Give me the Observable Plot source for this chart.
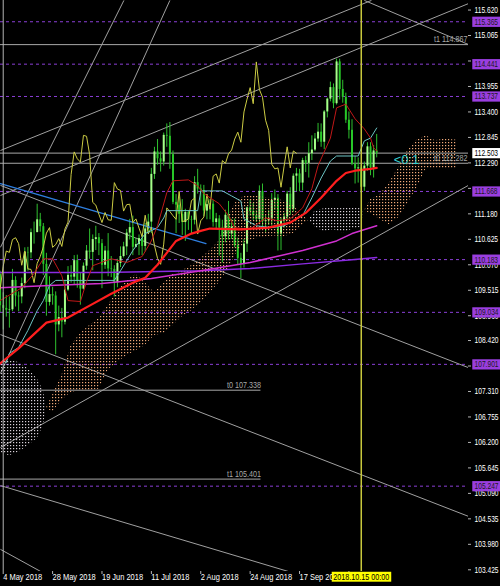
<!DOCTYPE html>
<html><head><meta charset="utf-8">
<script src="https://cdn.jsdelivr.net/npm/d3@7"></script>
<script src="https://cdn.jsdelivr.net/npm/@observablehq/plot@0.6"></script>
<style>
html,body{margin:0;padding:0;background:#000;}
#chart svg{display:block;}
</style></head>
<body><div id="chart"></div>
<script>
// ---- daily bars (USDJPY) ----
const barDates = ["2018.05.03","2018.05.04","2018.05.07","2018.05.08","2018.05.09","2018.05.10","2018.05.11","2018.05.14","2018.05.15","2018.05.16","2018.05.17","2018.05.18","2018.05.21","2018.05.22","2018.05.23","2018.05.24","2018.05.25","2018.05.28","2018.05.29","2018.05.30","2018.05.31",
"2018.06.01","2018.06.04","2018.06.05","2018.06.06","2018.06.07","2018.06.08","2018.06.11","2018.06.12","2018.06.13","2018.06.14","2018.06.15","2018.06.18","2018.06.19","2018.06.20","2018.06.21","2018.06.22","2018.06.25","2018.06.26","2018.06.27","2018.06.28","2018.06.29",
"2018.07.02","2018.07.03","2018.07.04","2018.07.05","2018.07.06","2018.07.09","2018.07.10","2018.07.11","2018.07.12","2018.07.13","2018.07.16","2018.07.17","2018.07.18","2018.07.19","2018.07.20","2018.07.23","2018.07.24","2018.07.25","2018.07.26","2018.07.27","2018.07.30","2018.07.31",
"2018.08.01","2018.08.02","2018.08.03","2018.08.06","2018.08.07","2018.08.08","2018.08.09","2018.08.10","2018.08.13","2018.08.14","2018.08.15","2018.08.16","2018.08.17","2018.08.20","2018.08.21","2018.08.22","2018.08.23","2018.08.24","2018.08.27","2018.08.28","2018.08.29","2018.08.30","2018.08.31",
"2018.09.03","2018.09.04","2018.09.05","2018.09.06","2018.09.07","2018.09.10","2018.09.11","2018.09.12","2018.09.13","2018.09.14","2018.09.17","2018.09.18","2018.09.19","2018.09.20","2018.09.21","2018.09.24","2018.09.25","2018.09.26","2018.09.27","2018.09.28",
"2018.10.01","2018.10.02","2018.10.03","2018.10.04","2018.10.05","2018.10.08","2018.10.09","2018.10.10","2018.10.11","2018.10.12","2018.10.15","2018.10.16","2018.10.17","2018.10.18","2018.10.19","2018.10.22"];
const opens = [109.86,109.18,109.12,109.08,109.09,109.73,109.39,109.37,109.66,110.34,110.33,110.77,110.77,111.05,110.90,110.08,109.25,109.42,109.39,108.76,108.92,
108.82,109.52,109.84,109.80,110.16,109.71,109.54,110.04,110.37,110.34,110.62,110.66,110.53,110.06,110.37,109.98,109.97,109.68,110.10,110.25,110.46,
110.76,110.88,110.45,110.51,110.64,110.47,110.85,111.00,112.04,112.53,112.38,112.31,112.89,112.87,112.47,111.43,111.37,111.17,110.99,111.21,111.05,111.04,
111.86,111.72,111.69,111.24,111.38,111.39,110.99,111.07,110.87,110.68,111.15,110.74,110.89,110.49,110.21,110.08,110.52,111.31,111.23,111.14,111.06,111.67,111.01,
111.03,111.07,111.47,111.52,110.74,111.03,111.11,111.61,111.28,112.00,112.05,111.85,112.34,112.28,112.49,112.57,112.81,112.96,112.74,113.40,
113.68,113.93,113.58,114.49,113.89,113.72,113.22,113.00,112.26,112.16,112.18,111.76,112.22,112.64,112.18,112.55];
const highs = [109.93,109.46,109.40,109.37,109.97,109.81,109.48,109.78,110.44,110.45,110.85,111.00,111.39,111.19,110.97,110.32,109.81,109.58,109.48,109.17,109.12,
109.73,110.03,110.05,110.27,110.28,109.88,110.11,110.49,110.85,110.72,110.91,110.75,110.62,110.47,110.75,110.25,110.05,110.19,110.46,110.56,110.84,
111.06,111.13,110.65,110.72,110.71,110.97,111.17,112.17,112.63,112.80,112.53,112.94,113.14,113.17,112.55,111.60,111.54,111.49,111.28,111.23,111.13,111.99,
112.15,111.81,111.80,111.48,111.49,111.47,111.19,111.14,111.04,111.26,111.45,111.06,111.07,110.65,110.32,110.62,111.33,111.48,111.41,111.25,111.79,111.83,111.14,
111.25,111.62,111.70,111.60,111.09,111.19,111.67,111.75,112.05,112.17,112.15,112.39,112.43,112.73,112.88,112.93,113.15,113.14,113.43,113.70,
114.05,114.01,114.55,114.55,114.09,113.81,113.40,113.23,112.43,112.40,112.24,112.31,112.73,112.73,112.67,112.91];
const lows = [109.03,108.65,108.93,108.69,109.05,109.15,109.05,109.22,109.55,109.93,110.20,110.52,110.80,110.78,109.84,108.95,109.17,109.19,108.11,108.61,108.48,
108.76,109.49,109.67,109.64,109.56,109.19,109.52,109.95,110.19,109.94,110.38,110.27,109.55,109.97,109.81,109.79,109.37,109.57,110.01,110.22,110.27,
110.61,110.27,110.44,110.27,110.27,110.35,110.77,110.75,111.93,112.24,112.09,112.22,112.63,112.15,111.38,110.75,110.97,110.71,110.58,110.82,110.74,110.94,
111.61,111.35,111.12,111.05,111.05,110.89,110.86,110.26,110.11,110.55,110.61,110.62,110.44,110.07,109.77,110.00,110.34,111.13,111.04,110.99,110.95,110.86,110.78,
110.93,110.91,111.25,110.37,110.38,110.87,111.02,111.15,111.22,111.66,111.66,111.68,112.08,111.96,112.34,112.54,112.74,112.63,112.58,113.27,
113.62,113.47,113.55,113.66,113.59,113.15,112.81,112.23,111.83,111.85,111.62,111.67,112.11,112.01,111.96,112.40];
const closes = [109.18,109.12,109.08,109.09,109.73,109.39,109.37,109.66,110.34,110.33,110.77,110.77,111.05,110.90,110.08,109.25,109.42,109.39,108.76,108.92,108.82,
109.52,109.84,109.80,110.16,109.71,109.54,110.04,110.37,110.34,110.62,110.66,110.53,110.06,110.37,109.98,109.97,109.68,110.10,110.25,110.46,110.76,
110.88,110.45,110.51,110.64,110.47,110.85,111.00,112.04,112.53,112.38,112.31,112.89,112.87,112.47,111.43,111.37,111.17,110.99,111.21,111.05,111.04,111.86,
111.72,111.69,111.24,111.38,111.39,110.99,111.07,110.87,110.68,111.15,110.74,110.89,110.49,110.21,110.08,110.52,111.31,111.23,111.14,111.06,111.67,111.01,111.03,
111.07,111.47,111.52,110.74,111.03,111.11,111.61,111.28,112.00,112.05,111.85,112.34,112.28,112.49,112.57,112.81,112.96,112.74,113.40,113.68,
113.93,113.58,114.49,113.89,113.72,113.22,113.00,112.26,112.16,112.18,111.76,112.22,112.64,112.18,112.55,112.50];
const chikouShift = 26;

// ---- indicator lines: [bar, price] ----
const maLine = [[-1,107.92],[5,108.25],[14,108.81],[21,108.92],[28,109.18],[35,109.44],[42,109.68],[46,109.79],[50,110.07],[53,110.33],[56,110.59],[61,110.75],[64,110.81],[67,110.86],[77,110.84],[86,110.88],[93,110.99],[98,111.20],[103,111.53],[108,111.90],[111,112.07],[114,112.12],[119,112.16],[121,112.18]];
const tenkan = [[-1,109.29],[6,109.57],[10,109.88],[13,110.20],[16,110.20],[19,109.83],[21,109.29],[25,109.27],[27,109.70],[29,110.05],[35,110.20],[40,110.12],[45,110.25],[48,110.59],[50,110.92],[53,111.64],[55,111.90],[60,111.92],[63,111.79],[65,111.62],[70,111.40],[73,111.14],[75,110.88],[80,110.84],[85,111.09],[89,111.03],[93,111.07],[97,111.31],[100,111.73],[102,112.23],[106,112.83],[108,113.49],[111,113.57],[114,113.25],[117,113.03],[119,112.83],[120,112.62],[121,112.55]];
const kijun = [[1,107.94],[2,108.14],[5,108.27],[8,108.64],[11,109.07],[13,109.29],[15,109.62],[17,109.73],[36,109.73],[38,109.94],[42,110.38],[46,110.75],[50,110.88],[52,111.09],[53,111.25],[63,111.25],[64,111.68],[71,111.68],[74,111.57],[77,111.46],[78,111.07],[82,110.92],[87,110.88],[91,110.92],[97,111.14],[100,111.53],[103,111.96],[106,112.33],[108,112.44],[115,112.44],[117,112.77],[119,112.83],[121,113.05]];
const cloudBars = [-1,2,5,8,11,13,14,16,19,22,25,28,31,34,37,40,43,46,49,52,55,58,61,64,67,70,73,76,79,82,85,88,91,94,97,99,101,104,107,110,113,116,117,119,122,125,128,131,134,137,140,143,146,147];
const spanA = [105.98,105.91,105.98,106.13,106.28,106.56,106.95,107.23,107.66,108.31,108.57,108.75,108.90,109.18,109.51,109.73,109.86,109.68,109.46,109.68,109.86,109.94,110.05,110.20,110.38,110.59,111.14,111.51,111.57,111.57,111.53,111.51,111.46,111.36,111.14,111.04,110.89,110.79,110.84,110.76,110.84,110.89,111.24,111.49,111.59,111.84,112.18,112.55,112.79,112.88,112.77,112.81,112.79,112.79];
const spanB = [107.94,107.99,107.94,107.81,107.59,107.33,106.95,106.86,107.12,107.29,107.33,107.33,107.36,107.77,107.94,108.09,108.20,108.31,108.53,108.57,108.75,108.94,109.07,109.25,109.46,109.68,109.99,110.38,110.59,110.64,110.68,110.70,110.68,110.75,110.94,111.04,111.24,111.29,111.31,111.29,111.31,111.29,111.24,111.19,111.06,110.94,111.09,111.40,111.74,112.16,112.16,112.16,112.16,112.16];
const sma100 = [[-1,109.57],[15,109.62],[32,109.66],[48,109.77],[64,109.94],[80,110.12],[97,110.38],[108,110.59],[113,110.75],[121,110.92]];
const sma200 = [[-1,109.90],[32,109.90],[64,109.94],[80,109.99],[97,110.09],[113,110.18],[121,110.23]];
const blueLine = [[-0.9,111.84],[65.7,110.53]];
// gray trend lines [bar1, price1, bar2, price2]
const trendLines = [
  [-0.9,112.56,119.3,115.83],[-0.9,111.58,150.7,115.76],[-0.9,106.09,150.7,111.80],
  [-0.9,110.45,39.1,115.83],[-0.9,107.70,54.0,115.83],[117,115.83,150.7,114.87],
  [-0.9,111.80,150.7,107.83],[-0.9,108.55,150.7,104.59],[-0.9,105.26,93.3,103.37],
  [-0.9,103.87,12.1,103.39]
];
// horizontal levels
const purpleLevels = [115.365,114.441,113.737,111.668,110.183,109.034,107.901,105.247];
const bidPrice = 112.503;
const grayLevels = [114.867,112.503,112.282];
const tLabelsRight = [{text:"t1 114.867",price:114.867},{text:"t0 112.282",price:112.282}];
const tLines = [{text:"t0 107.338",price:107.338,from:-0.9,to:83.5},{text:"t1 105.401",price:105.401,from:-0.9,to:83.5}];
const ratioText = {text:"<0:1", bar:126.5, price:112.36};
// axes (labels fully hidden behind the level boxes in the picture are left blank)
const yTicks = [115.620,115.065,114.510,113.955,113.400,112.845,112.290,111.735,111.180,110.625,110.070,109.515,108.960,108.420,107.865,107.310,106.755,106.200,105.645,105.090,104.535,103.980,103.425];
const yTickLabels = ["115.620","115.065","","113.955","113.400","112.845","112.290","","111.180","110.625","110.070","109.515","108.960","108.420","","107.310","106.755","106.200","105.645","105.090","104.535","103.980","103.425"];
const xTickDates = ["2018.05.04","2018.05.28","2018.06.19","2018.07.11","2018.08.02","2018.08.24","2018.09.17","2018.10.09"];
const xTickLabels = ["4 May 2018","28 May 2018","19 Jun 2018","11 Jul 2018","2 Aug 2018","24 Aug 2018","17 Sep 2018","9 Oct 2018"];
const cursorDate = "2018.10.15";
const cursorLabel = "2018.10.15 00:00";

// ---- build tables ----
const barOf = d => barDates.indexOf(d) - 1;
const bars = barDates.map((d,k)=>({i:k-1, o:opens[k], h:highs[k], l:lows[k], c:closes[k]}));
const chikou = bars.map(b=>({i:b.i-chikouShift, c:b.c})).filter(d=>d.i>=-1);
const cloud = cloudBars.map((i,k)=>({i, a:spanA[k], b:spanB[k]}));
const xTicks = xTickDates.map(barOf);
const cursorBar = barOf(cursorDate);
const yLabelRows = yTicks.map((v,k)=>({v, t:yTickLabels[k]})).filter(d=>d.t);

const F = "Liberation Sans, Arial, sans-serif";
const FS = 9;
const chart = Plot.plot({
  width: 500, height: 586,
  marginLeft: 0, marginRight: 32, marginTop: 0, marginBottom: 15,
  x: {domain: [-0.877, 150.74], axis: null},
  y: {domain: [103.388, 115.828], axis: null},
  style: {background: "#000", fontFamily: F},
  marks: [
    Plot.ruleY(purpleLevels, {y: d=>d, stroke: "#8a3fd6", strokeDasharray: "3,3", strokeWidth: 1}),
    Plot.ruleY(grayLevels, {y: d=>d, stroke: "#a8a8a8", strokeWidth: 1}),
    Plot.ruleY(tLines, {y: "price", x1: "from", x2: "to", stroke: "#a8a8a8", strokeWidth: 1}),
    Plot.link(trendLines, {x1: d=>d[0], y1: d=>d[1], x2: d=>d[2], y2: d=>d[3], stroke: "#a0a0a0", strokeWidth: 1, clip: true}),
    // candles
    Plot.ruleX(bars, {x: "i", y1: "l", y2: "h", stroke: "#2fc02f", strokeWidth: 1}),
    Plot.ruleX(bars, {x: "i", y1: "o", y2: "c", stroke: d => d.c >= d.o ? "#a6ff8a" : "#28c828", strokeWidth: 2}),
    // ichimoku cloud
    Plot.areaY(cloud, {x: "i", y1: "b", y2: d => Math.max(d.a, d.b), fill: "url(#dotsPeach)"}),
    Plot.areaY(cloud, {x: "i", y1: "a", y2: d => Math.max(d.a, d.b), fill: "url(#dotsWhite)"}),
    // long averages and blue line
    Plot.line(sma200, {x: d=>d[0], y: d=>d[1], stroke: "#8b2be2", strokeWidth: 1.5}),
    Plot.line(sma100, {x: d=>d[0], y: d=>d[1], stroke: "#d030d0", strokeWidth: 1.5}),
    Plot.line(blueLine, {x: d=>d[0], y: d=>d[1], stroke: "#2f7fe0", strokeWidth: 1.2}),
    // chikou, kijun, tenkan, MA
    Plot.line(chikou, {x: "i", y: "c", stroke: "#cccc44", strokeWidth: 1}),
    Plot.line(kijun, {x: d=>d[0], y: d=>d[1], stroke: "#6cc4c4", strokeWidth: 1}),
    Plot.line(tenkan, {x: d=>d[0], y: d=>d[1], stroke: "#c01818", strokeWidth: 1}),
    Plot.line(maLine, {x: d=>d[0], y: d=>d[1], stroke: "#ff1e1e", strokeWidth: 2.2}),
    // cursor
    Plot.ruleX([cursorBar], {x: d=>d, stroke: "#c8c83c", strokeWidth: 1.5}),
    // frame lines
    Plot.ruleX([0], {frameAnchor: "right", stroke: "#b4b4b4"}),
    Plot.ruleY([0], {frameAnchor: "bottom", stroke: "#b4b4b4"}),
    // y ticks & labels
    Plot.tickY(yTicks, {y: d=>d, stroke: "#b4b4b4", insetLeft: 465, dx: 3}),
    Plot.text(yLabelRows, {y: "v", text: "t", frameAnchor: "right", dx: 6, textAnchor: "start", fill: "#ffffff", fontSize: FS, ariaDescription: "ylabels"}),
    // x ticks & labels
    Plot.tickX(xTicks, {x: d=>d, stroke: "#b4b4b4", insetTop: 568, dy: 3}),
    Plot.text(xTicks, {x: d=>d, text: (d,k)=>xTickLabels[k], frameAnchor: "bottom", dy: 8, textAnchor: "start", fill: "#ffffff", fontSize: FS, ariaDescription: "xlabels"}),
    // level labels
    Plot.text(purpleLevels, {y: d=>d, text: d=>d.toFixed(3), frameAnchor: "right", dx: 6, textAnchor: "start", fill: "#1a1a1a", fontSize: FS, ariaDescription: "purple-label"}),
    Plot.text([bidPrice], {y: d=>d, text: d=>d.toFixed(3), frameAnchor: "right", dx: 6, textAnchor: "start", fill: "#000", fontSize: FS, ariaDescription: "bid-label"}),
    Plot.text(tLabelsRight, {y: "price", text: "text", frameAnchor: "right", dx: -1, dy: -5, textAnchor: "end", fill: "#a8a8a8", fontSize: FS, ariaDescription: "tlabels"}),
    Plot.text(tLines, {x: "to", y: "price", text: "text", dy: -5, textAnchor: "end", fill: "#a8a8a8", fontSize: FS, ariaDescription: "tlabels2"}),
    Plot.text([ratioText], {x: "bar", y: "price", text: "text", textAnchor: "start", fill: "#36d0d0", fontSize: 13, ariaDescription: "ratio"}),
    Plot.text([cursorBar], {x: d=>d, text: () => cursorLabel, frameAnchor: "bottom", dy: 8, textAnchor: "middle", fill: "#000", fontSize: FS, ariaDescription: "cursor-date"})
  ]
});
document.getElementById("chart").append(chart);

// ---- styling post-process: dot patterns, narrow MT4-like text, label boxes ----
const NS = "http://www.w3.org/2000/svg";
const defs = document.createElementNS(NS, "defs");
defs.innerHTML = `<pattern id="dotsPeach" width="3" height="3" patternUnits="userSpaceOnUse"><rect x="1" y="1" width="1.2" height="1.2" fill="#f0a878"/></pattern>
<pattern id="dotsWhite" width="3" height="3" patternUnits="userSpaceOnUse"><rect x="1" y="1" width="1.2" height="1.2" fill="#d8d0d8"/></pattern>`;
chart.insertBefore(defs, chart.firstChild);
const sel = lab => chart.querySelectorAll(`[aria-description="${lab}"] text`);
const narrow = {"ylabels":0.74, "purple-label":0.74, "bid-label":0.74, "xlabels":0.83, "cursor-date":0.8, "tlabels":0.8, "tlabels2":0.8};
for (const [lab, f] of Object.entries(narrow)) {
  sel(lab).forEach(t => {
    const tr = t.getAttribute("transform");
    if (tr) t.setAttribute("transform", `${tr} scale(${f},1)`);
    else {
      const x = +(t.getAttribute("x") || 0), y = +(t.getAttribute("y") || 0);
      t.setAttribute("transform", `translate(${x},${y}) scale(${f},1) translate(${-x},${-y})`);
    }
  });
}
function boxes(lab, fill, padL, padR, padY) {
  sel(lab).forEach(t => {
    const b = t.getBBox();
    const r = document.createElementNS(NS, "rect");
    r.setAttribute("x", b.x - padL); r.setAttribute("y", b.y - padY);
    r.setAttribute("width", b.width + padL + padR); r.setAttribute("height", b.height + 2*padY);
    r.setAttribute("fill", fill);
    if (t.getAttribute("transform")) r.setAttribute("transform", t.getAttribute("transform"));
    t.parentNode.insertBefore(r, t);
  });
}
boxes("purple-label", "#9a3ee0", 3, 6, 0);
boxes("bid-label", "#ffffff", 3, 6, 0);
boxes("cursor-date", "#ffff00", 2, 2, 0);
</script>
</body></html>
